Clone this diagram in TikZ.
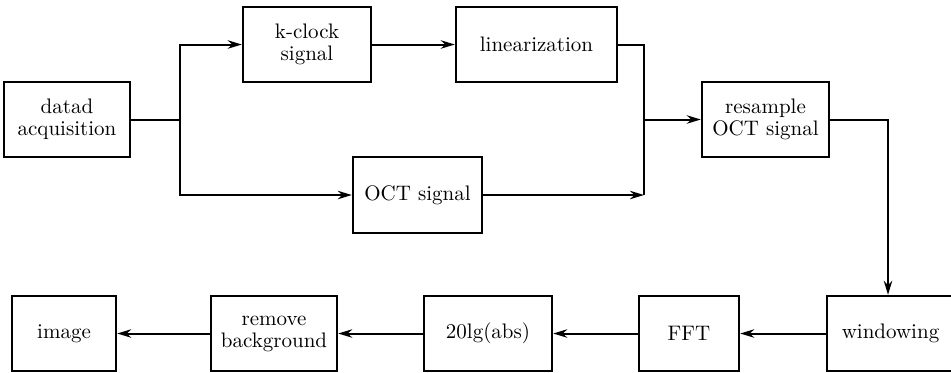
\documentclass[tikz,border=0pt]{standalone}
\usetikzlibrary{arrows.meta}
\begin{document}
\begin{tikzpicture}[x=0.5pt,y=-0.5pt,
  box/.style={draw,line width=1.2pt,inner sep=0pt,minimum height=37.5pt,align=center,font=\fontsize{10.5}{11}\selectfont},
  conn/.style={line width=1pt},
  arr/.style={conn,-{Stealth[length=7pt,width=4.2pt,inset=2.2pt]}}]
\useasboundingbox (0,0) rectangle (951,372);
\node[box,minimum width=63pt]   (dat) at (67,119.5) {datad\\acquisition};
\node[box,minimum width=64pt]   (kcl) at (307,44.5) {k-clock\\signal};
\node[box,minimum width=80.5pt] (lin) at (536.5,44.5) {linearization};
\node[box,minimum width=64.5pt,minimum height=38pt] (oct) at (417.5,195) {OCT signal};
\node[box,minimum width=63.5pt] (res) at (765.5,119.5) {resample\\OCT signal};
\node[box,minimum width=52pt]   (img) at (64,333.5) {image};
\node[box,minimum width=63pt]   (rem) at (274,333.5) {remove\\background};
\node[box,minimum width=64pt]   (lg)  at (488,333.5) {20lg(abs)};
\node[box,minimum width=50pt]   (fft) at (689,333.5) {FFT};
\node[box,minimum width=63.5pt] (win) at (890.5,333.5) {windowing};
\coordinate (j1) at (180,119.5);
\coordinate (j2) at (644,195);
\coordinate (j3) at (644,119.5);
\draw[conn] (dat.east) -- (j1);
\draw[arr] (j1) |- (kcl.west);
\draw[arr] (j1) |- (oct.west);
\draw[arr] (kcl.east) -- (lin.east -| lin.west);
\draw[conn] (lin.east) -| (j2);
\draw[arr] (oct.east) -- (j2);
\draw[arr] (j3) -- (res.west);
\draw[arr] (res.east) -| (win.north -| 888,0);
\draw[arr] (win.west) -- (fft.east);
\draw[arr] (fft.west) -- (lg.east);
\draw[arr] (lg.west) -- (rem.east);
\draw[arr] (rem.west) -- (img.east);
\end{tikzpicture}
\end{document}
